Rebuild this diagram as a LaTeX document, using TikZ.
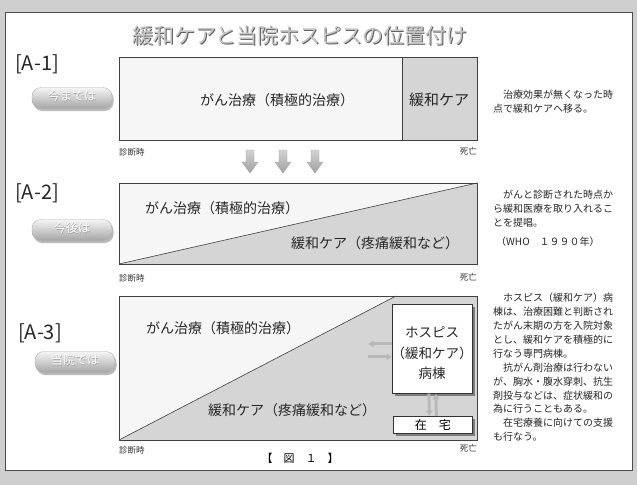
\documentclass[tikz,border=0pt]{standalone}
\usepackage{fontspec}
\setmainfont{Noto Sans CJK JP}
\usetikzlibrary{arrows.meta,shadows}
\begin{document}
\begin{tikzpicture}[x=1pt,y=-1pt,
  frameline/.style={draw=black!75, line width=0.7pt},
  cancer/.style={fill=gray!7},
  palli/.style={fill=gray!33},
  big/.style={font=\fontsize{14}{14}\selectfont, text=black!85, inner sep=0pt},
  lab/.style={font=\fontsize{20}{20}\selectfont, text=black!85, inner sep=0pt},
  btn/.style={rounded corners=9pt, minimum width=80pt, minimum height=21pt, inner sep=0pt,
    top color=gray!8, bottom color=gray!70, draw=gray!60,
    drop shadow={shadow xshift=1.5pt, shadow yshift=-2.5pt, opacity=0.55}},
  btntxt/.style={font=\fontsize{12}{12}\selectfont, inner sep=0pt, text=white},
  btnsh/.style={font=\fontsize{12}{12}\selectfont, inner sep=0pt, text=gray!75},
  small/.style={font=\fontsize{8.5}{8.5}\selectfont, text=black!80, inner sep=0pt},
  note/.style={font=\fontsize{10}{10}\selectfont, text=black!85, inner sep=0pt, anchor=west},
  wbox/.style={draw=black!80, line width=0.7pt, fill=white,
    drop shadow={shadow xshift=2.5pt, shadow yshift=-2.5pt, opacity=0.7, fill=gray!70!black}},
  blockarrow/.style={top color=gray!35, bottom color=gray!75, draw=gray!70},
  flow/.style={draw=gray!55, line width=3pt, -{Latex[length=5.5pt,width=8pt]}}
]
\useasboundingbox (0,0) rectangle (637,485);
% background and frame
\fill[gray!38] (0,0) rectangle (637,485);
\filldraw[fill=white, draw=gray!60!black, line width=0.8pt] (5,12) rectangle (632,470);

% title
\node[font=\fontsize{21}{21}\selectfont, text=gray!75!black, inner sep=0pt] (titlesh) at (301,37) {緩和ケアと当院ホスピスの位置付け};
\node[font=\fontsize{21}{21}\selectfont, text=gray!45, inner sep=0pt] (title) at (300,36) {緩和ケアと当院ホスピスの位置付け};

% ---------- A-1 ----------
\node[lab] (la1) at (37,64) {[A-1]};
\node[btn] (b1) at (72,98) {};
\node[btnsh] (b1s) at (72.7,96.7) {今までは};
\node[btntxt] (b1t) at (72,96) {今までは};
\fill[cancer] (119,57) rectangle (402,140);
\fill[palli] (402,57) rectangle (477,140);
\draw[frameline] (119,57) rectangle (477,140);
\draw[frameline] (402,57) -- (402,140);
\node[big] (c1) at (277,100) {がん治療（積極的治療）};
\node[big, font=\fontsize{15}{15}\selectfont] (p1) at (439,100) {緩和ケア};
\node[small, anchor=west] (d1) at (119,152) {診断時};
\node[small, anchor=east] (e1) at (477,151) {死亡};
\node[note] (n1a) at (493,95) {　治療効果が無くなった時};
\node[note] (n1b) at (493,109) {点で緩和ケアへ移る。};

% down arrows
\foreach \cx in {250,283,315}{
  \path[blockarrow] (\cx-4,150) -- (\cx+4,150) -- (\cx+4,162) -- (\cx+8,162) -- (\cx,173) -- (\cx-8,162) -- (\cx-4,162) -- cycle;
}

% ---------- A-2 ----------
\node[lab] (la2) at (37,193) {[A-2]};
\node[btn] (b2) at (72,230) {};
\node[btnsh] (b2s) at (72.7,228.7) {今後は};
\node[btntxt] (b2t) at (72,228) {今後は};
\fill[cancer] (119,183) rectangle (477,264);
\fill[palli] (119,264) -- (477,183) -- (477,264) -- cycle;
\draw[frameline] (119,183) rectangle (477,264);
\draw[black!75, line width=0.6pt] (119,264) -- (477,183);
\node[big] (c2) at (222,208) {がん治療（積極的治療）};
\node[big] (p2) at (375,243) {緩和ケア（疼痛緩和など）};
\node[small, anchor=west] (d2) at (119,278) {診断時};
\node[small, anchor=east] (e2) at (477,277) {死亡};
\node[note] (n2a) at (493,195) {　がんと診断された時点か};
\node[note] (n2b) at (493,209) {ら緩和医療を取り入れるこ};
\node[note] (n2c) at (493,223) {とを提唱。};
\node[note] (n2d) at (496,242) {（WHO　１９９０年）};

% ---------- A-3 ----------
\node[lab] (la3) at (40,333) {[A-3]};
\node[btn] (b3) at (75,362) {};
\node[btnsh] (b3s) at (75.7,360.7) {当院では};
\node[btntxt] (b3t) at (75,360) {当院では};
\fill[cancer] (119,296) rectangle (477,440);
\fill[palli] (119,440) -- (396,296) -- (477,296) -- (477,440) -- cycle;
\draw[frameline] (119,296) rectangle (477,440);
\draw[black!75, line width=0.6pt] (119,440) -- (396,296);
\node[big] (c3) at (223,328) {がん治療（積極的治療）};
\node[big] (p3) at (292,410) {緩和ケア（疼痛緩和など）};

\node[wbox, minimum width=80pt, minimum height=89pt, inner sep=0pt, anchor=north west] (hosp) at (392,304) {};
\node[big, font=\fontsize{13.5}{13.5}\selectfont] (h1) at (432,332) {ホスピス};
\node[big, font=\fontsize{13.5}{13.5}\selectfont] (h2) at (432,353) {（緩和ケア）};
\node[big, font=\fontsize{13.5}{13.5}\selectfont] (h3) at (432,373) {病棟};
\node[wbox, minimum width=79pt, minimum height=17pt, inner sep=0pt, anchor=north west,
  font=\fontsize{12}{12}\selectfont] (home) at (393,416) {在　宅};

\coordinate (hl1) at ([yshift=5pt]hosp.west);
\coordinate (hl2) at ([yshift=-8pt]hosp.west);
\draw[flow] (hl1) -- ++(-24,0);
\draw[flow] ([xshift=-24pt]hl2) -- (hl2);
\draw[flow] ([xshift=-3.5pt]hosp.south) -- ([xshift=-3.5pt]home.north);
\draw[flow] ([xshift=3.5pt]home.north) -- ([xshift=3.5pt]hosp.south);

\node[small, anchor=west] (d3) at (119,450) {診断時};
\node[small, anchor=east] (e3) at (477,448) {死亡};
\node[font=\fontsize{11}{11}\selectfont, inner sep=0pt] (fig) at (300,458) {【　図　１　】};

\foreach \t [count=\i from 0] in {　ホスピス（緩和ケア）病,棟は、治療困難と判断され,たがん末期の方を入院対象,とし、緩和ケアを積極的に,行なう専門病棟。,　抗がん剤治療は行わない,が、胸水・腹水穿刺、抗生,剤投与などは、症状緩和の,為に行うこともある。,　在宅療養に向けての支援,も行なう。}{
  \node[note] (n3-\i) at (493,298+13.9*\i) {\t};
}
\end{tikzpicture}
\end{document}
